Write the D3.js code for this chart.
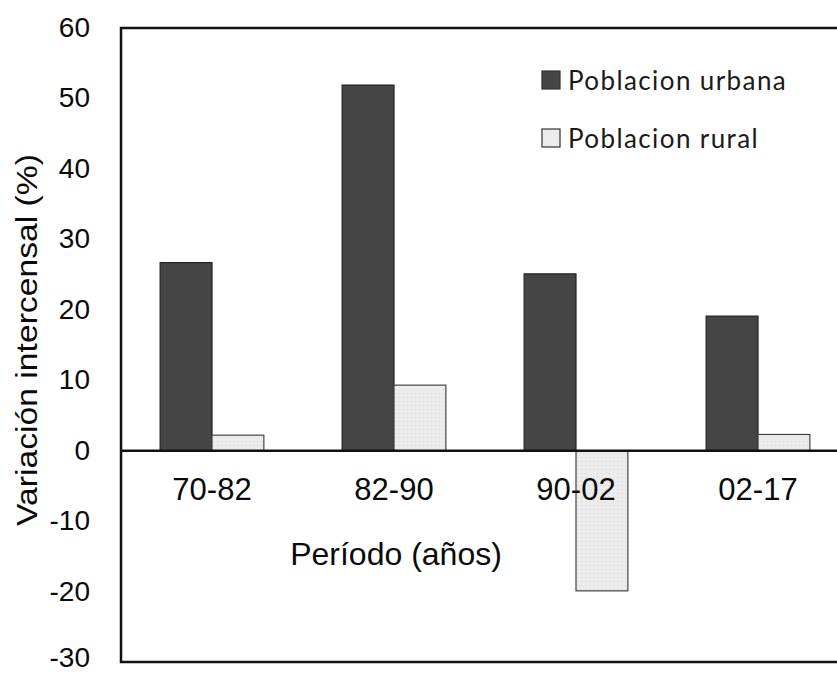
<!DOCTYPE html>
<html>
<head>
<meta charset="utf-8">
<script src="https://cdn.jsdelivr.net/npm/d3@7"></script>
<style>
  body { margin: 0; background: #fff; }
  text { font-family: "Liberation Sans", Arial, sans-serif; fill: #0a0a0a; }
  .legend text { font-family: Lato, "Open Sans", sans-serif; fill: #1a1a1a; }
</style>
</head>
<body>
<script>
var periods = ["70-82", "82-90", "90-02", "02-17"];
var urbana = [26.7, 51.9, 25.1, 19.1];
var rural = [2.2, 9.3, -19.9, 2.3];
var yTicks = [60, 50, 40, 30, 20, 10, 0, -10, -20, -30];
var seriesNames = ["Poblacion urbana", "Poblacion rural"];
var colors = ["#454545", "#ececec"];

var width = 837, height = 674;
var margin = {top: 28, left: 121, bottom: 12};

var svg = d3.select("body").append("svg")
    .attr("width", width)
    .attr("height", height);

var y = d3.scaleLinear()
    .domain([-30, 60])
    .range([height - margin.bottom, margin.top]);

// band for the periods, goes a bit past the window on the right
var x = d3.scaleBand()
    .domain(periods)
    .range([margin.left, 849])
    .paddingInner(0.43)
    .paddingOuter(0.215);

var x1 = d3.scaleBand()
    .domain([0, 1])
    .range([0, x.bandwidth()]);

// dotted fill for rural bars
var defs = svg.append("defs");
var pat = defs.append("pattern")
    .attr("id", "dots")
    .attr("width", 4).attr("height", 4)
    .attr("patternUnits", "userSpaceOnUse");
pat.append("rect").attr("width", 4).attr("height", 4).attr("fill", colors[1]);
pat.append("rect").attr("x", 1).attr("y", 1).attr("width", 1).attr("height", 1).attr("fill", "#d6d6d6");

var rows = periods.map(function(p, i) { return {p: p, vals: [urbana[i], rural[i]]}; });

var groups = svg.selectAll("g.grp")
    .data(rows)
  .enter().append("g")
    .attr("class", "grp")
    .attr("transform", function(d) { return "translate(" + x(d.p) + ",0)"; });

groups.selectAll("rect")
    .data(function(d) { return d.vals; })
  .enter().append("rect")
    .attr("x", function(d, i) { return x1(i); })
    .attr("width", x1.bandwidth())
    .attr("y", function(d) { return y(Math.max(0, d)); })
    .attr("height", function(d) { return Math.abs(y(d) - y(0)); })
    .style("fill", function(d, i) { return i == 0 ? colors[0] : "url(#dots)"; })
    .style("stroke", function(d, i) { return i == 0 ? "#222" : "#444"; })
    .style("stroke-width", 1.2);

// frame
svg.append("rect")
    .attr("x", margin.left)
    .attr("y", y(60))
    .attr("width", 760)
    .attr("height", y(-30) - y(60))
    .style("fill", "none")
    .style("stroke", "#111")
    .style("stroke-width", 2.5);

// zero line
svg.append("line")
    .attr("x1", margin.left).attr("x2", width)
    .attr("y1", y(0)).attr("y2", y(0))
    .style("stroke", "#111")
    .style("stroke-width", 2.5);

// y tick labels (bottom one nudged up so it stays inside the window)
svg.selectAll("text.ytick")
    .data(yTicks)
  .enter().append("text")
    .attr("class", "ytick")
    .attr("x", 90)
    .attr("y", function(d) { return Math.min(y(d) + 9, height - 7); })
    .attr("text-anchor", "end")
    .style("font-size", "28px")
    .text(function(d) { return d; });

// x tick labels
svg.selectAll("text.xtick")
    .data(periods)
  .enter().append("text")
    .attr("class", "xtick")
    .attr("x", function(d) { return x(d) + x.bandwidth() / 2; })
    .attr("y", 500)
    .attr("text-anchor", "middle")
    .style("font-size", "31px")
    .text(function(d) { return d; });

svg.append("text")
    .attr("x", 396)
    .attr("y", 565)
    .attr("text-anchor", "middle")
    .style("font-size", "32px")
    .text("Período (años)");

svg.append("text")
    .attr("transform", "translate(37,340) rotate(-90)")
    .attr("text-anchor", "middle")
    .attr("textLength", 372)
    .attr("lengthAdjust", "spacingAndGlyphs")
    .style("font-size", "30px")
    .text("Variación intercensal (%)");

// legend
var legend = svg.append("g").attr("class", "legend");
var lg = legend.selectAll("g")
    .data(seriesNames)
  .enter().append("g")
    .attr("transform", function(d, i) { return "translate(542," + (71 + i * 58) + ")"; });

lg.append("rect")
    .attr("width", 18).attr("height", 18)
    .style("fill", function(d, i) { return colors[i]; })
    .style("stroke", "#333")
    .style("stroke-width", 1.2);

lg.append("text")
    .attr("x", 26)
    .attr("y", 19)
    .style("font-size", "26px")
    .style("letter-spacing", "1.4px")
    .text(function(d) { return d; });
</script>
</body>
</html>
